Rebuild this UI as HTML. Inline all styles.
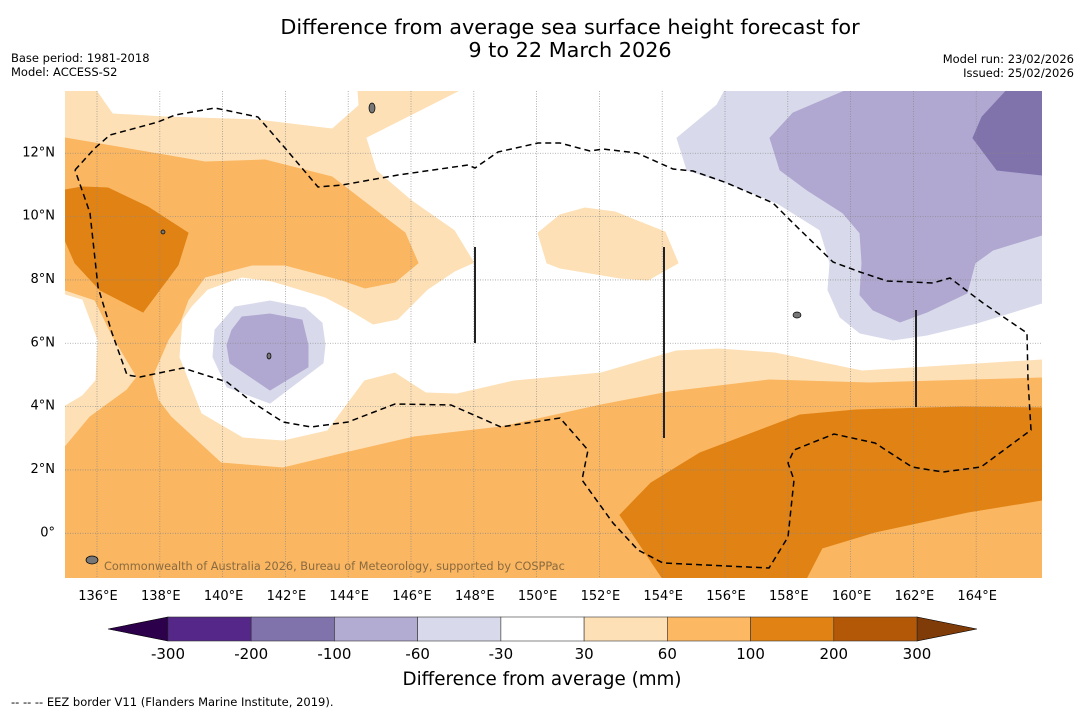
<!DOCTYPE html>
<html><head><meta charset="utf-8"><style>
body{margin:0;background:#fff;width:1085px;height:713px;overflow:hidden;font-family:"DejaVu Sans","Liberation Sans",sans-serif}
svg{display:block}
</style></head><body>
<svg id="chart" width="1085" height="713" viewBox="0 0 1085 713" xmlns="http://www.w3.org/2000/svg">
<text x="570" y="34" font-size="20.8" text-anchor="middle" fill="#000">Difference from average sea surface height forecast for</text>
<text x="570" y="57" font-size="20.8" text-anchor="middle" fill="#000">9 to 22 March 2026</text>
<text x="11" y="62" font-size="11.5">Base period: 1981-2018</text>
<text x="11" y="76" font-size="11.5">Model: ACCESS-S2</text>
<text x="1074" y="63" font-size="11.5" text-anchor="end">Model run: 23/02/2026</text>
<text x="1074" y="77" font-size="11.5" text-anchor="end">Issued: 25/02/2026</text>
<defs><clipPath id="mapclip"><rect x="65" y="91" width="977" height="487"/></clipPath></defs>
<g id="map" clip-path="url(#mapclip)"></g>
<g id="axes"></g>
<g id="cbar"></g>
<text x="542" y="685" font-size="18.3" text-anchor="middle">Difference from average (mm)</text>
<text x="11" y="706" font-size="11.5">--  --  -- EEZ border V11 (Flanders Marine Institute, 2019).</text>
</svg>
<script>
// axis data
const lonTicks=[136,138,140,142,144,146,148,150,152,154,156,158,160,162,164];
const latTicks=[0,2,4,6,8,10,12];
const cbarBounds=[-300,-200,-100,-60,-30,30,60,100,200,300];
const cbarColors=["#542788","#8073ac","#b2abd2","#d8daeb","#ffffff","#fee0b6","#fdb863","#e08214","#b35806"];
const cbarUnder="#2d004b", cbarOver="#7f3b08";
// geographic projection
const lonX=lon=>97+(lon-136)*31.4;
const latY=lat=>533.3-lat*31.67;
const NS="http://www.w3.org/2000/svg";
function mk(tag,attrs,parent){const e=document.createElementNS(NS,tag);for(const k in attrs)e.setAttribute(k,attrs[k]);parent.appendChild(e);return e;}
const map=document.getElementById('map'),axes=document.getElementById('axes'),cbar=document.getElementById('cbar');
// contour outlines (screen-space geometry of filled contour regions)
const layers=[
 {name:"contour-30-60-base",fill:"#fee0b6",pts:[[65,91],[1042,91],[1042,578],[65,578]]},
 {name:"contour-white-top-notch",fill:"#ffffff",pts:[[97,90],[113,113],[165,116],[258,119],[332,128],[358,105],[357,90]]},
 {name:"contour-white-central",fill:"#ffffff",pts:[[462,90],[1042,90],[1042,359],[862,370],[775,352],[719,348],[676,350],[601,372],[514,380],[457,393],[426,392],[395,372],[364,380],[327,430],[283,440],[243,437],[202,413],[180,357],[183,320],[192,307],[208,290],[242,278],[272,282],[325,298],[348,310],[373,325],[398,320],[428,290],[455,272],[475,263],[455,230],[412,200],[377,170],[367,138]]},
 {name:"contour-white-left",fill:"#ffffff",pts:[[65,295],[82,300],[97,340],[95,380],[82,395],[65,405]]},
 {name:"contour-30-60-island",fill:"#fee0b6",pts:[[538,233],[547,263],[560,268],[620,278],[648,280],[678,263],[665,232],[615,212],[585,208],[560,215]]},
 {name:"contour-60-100",fill:"#fab660",pts:[[65,138],[205,162],[265,160],[332,177],[405,233],[418,263],[395,282],[365,288],[342,280],[285,265],[252,265],[205,277],[188,300],[180,322],[168,340],[152,377],[158,400],[171,417],[221,463],[283,468],[345,453],[414,437],[501,427],[601,405],[669,392],[769,380],[869,383],[1042,378],[1042,578],[65,578],[65,447],[90,417],[127,390],[137,377],[112,335],[95,300],[65,290]]},
 {name:"contour-100-200-west",fill:"#e08214",pts:[[65,190],[82,187],[108,188],[148,207],[188,233],[178,265],[143,312],[100,290],[75,263],[65,240]]},
 {name:"contour-100-200-east",fill:"#e08214",pts:[[1042,408],[962,407],[856,410],[800,415],[700,453],[651,483],[620,515],[663,579],[806,579],[822,548],[875,532],[968,512],[1042,500]]},
 {name:"contour-neg30-neg60-east",fill:"#d8daeb",pts:[[725,90],[717,105],[677,138],[687,170],[727,183],[777,203],[820,230],[830,263],[828,290],[840,317],[860,333],[893,340],[927,335],[977,323],[1042,303],[1042,90]]},
 {name:"contour-neg60-neg100-east",fill:"#b0a8d0",pts:[[847,90],[793,113],[770,138],[780,170],[807,190],[843,213],[860,233],[862,263],[860,295],[873,310],[900,322],[927,312],[967,293],[975,263],[993,250],[1042,235],[1042,90]]},
 {name:"contour-neg100-neg200-east",fill:"#8073ac",pts:[[1007,90],[982,117],[973,138],[997,170],[1042,175],[1042,90]]},
 {name:"contour-neg30-neg60-west",fill:"#d8daeb",pts:[[215,330],[235,307],[270,301],[305,308],[322,323],[325,345],[323,363],[270,403],[227,387],[213,357]]},
 {name:"contour-neg60-neg100-west",fill:"#b0a8d0",pts:[[232,330],[242,317],[270,314],[302,320],[308,345],[308,367],[270,390],[230,363],[227,345]]}
];
layers.forEach(L=>{
 const p=mk('polygon',{points:L.pts.map(q=>q.join(',')).join(' '),fill:L.fill,stroke:L.fill,'stroke-width':1},map);
 
 
});
// gridlines
lonTicks.forEach(lon=>{
 const l=mk('line',{x1:lonX(lon),x2:lonX(lon),y1:91,y2:578,stroke:'#888','stroke-width':0.8,'stroke-dasharray':'1,1.5',opacity:0.8},map);
 
 
});
latTicks.forEach(lat=>{
 const l=mk('line',{x1:65,x2:1042,y1:latY(lat),y2:latY(lat),stroke:'#888','stroke-width':0.8,'stroke-dasharray':'1,1.5',opacity:0.8},map);
 
 
});
// EEZ border
const eez=[[75,170],[95,148],[110,135],[158,122],[175,115],[215,108],[258,117],[285,148],[318,187],[342,185],[398,175],[468,165],[475,168],[498,152],[538,143],[560,143],[590,151],[603,149],[637,153],[673,169],[693,171],[727,183],[773,203],[793,223],[833,262],[860,272],[887,281],[933,283],[950,278],[983,303],[1027,333],[1028,380],[1031,430],[981,467],[943,472],[912,467],[875,443],[834,434],[794,450],[788,463],[794,480],[788,537],[769,568],[663,563],[638,550],[613,523],[582,480],[588,450],[560,418],[501,427],[451,405],[395,404],[348,422],[311,427],[283,422],[252,402],[227,382],[183,368],[140,377],[127,375],[112,333],[98,287],[90,213],[75,170]];
const eb=mk('polyline',{points:eez.map(q=>q.join(',')).join(' '),fill:'none',stroke:'#000','stroke-width':1.5,'stroke-dasharray':'6,4'},map);


[[475,247,343],[664,247,438],[916,310,407]].forEach(v=>{
 const l=mk('line',{x1:v[0],x2:v[0],y1:v[1],y2:v[2],stroke:'#222','stroke-width':2},map);
 
 
});
// land specks
[[372,108,3,5],[92,560,6,4],[163,232,2,2],[797,315,4,3],[269,356,2,3]].forEach(c=>{
 const e=mk('ellipse',{cx:c[0],cy:c[1],rx:c[2],ry:c[3],fill:'#777',stroke:'#000','stroke-width':0.7},map);
 
 
});
const cr=mk('text',{x:104,y:570,'font-size':11.3,fill:'#8a6a40'},map);
cr.textContent="Commonwealth of Australia 2026, Bureau of Meteorology, supported by COSPPac";


// axis labels
lonTicks.forEach(lon=>{
 const t=mk('text',{x:lonX(lon)+1,y:600,'font-size':13,'text-anchor':'middle'},axes);
 t.textContent=lon+'°E';
 
 
});
latTicks.forEach(lat=>{
 const t=mk('text',{x:55,y:latY(lat)+3,'font-size':13,'text-anchor':'end'},axes);
 t.textContent=lat===0?'0°':lat+'°N';
 
 
});
// colorbar
const cx0=168,cx1=917,cy0=617,cy1=641;
const seg=(cx1-cx0)/cbarColors.length;
const under=mk('polygon',{points:`${cx0},${cy0} ${cx0},${cy1} 108,${(cy0+cy1)/2}`,fill:cbarUnder,stroke:'#000','stroke-width':0.6},cbar);


const over=mk('polygon',{points:`${cx1},${cy0} ${cx1},${cy1} 977,${(cy0+cy1)/2}`,fill:cbarOver,stroke:'#000','stroke-width':0.6},cbar);


cbarColors.forEach((c,i)=>{
 const r=mk('rect',{x:cx0+i*seg,y:cy0,width:seg,height:cy1-cy0,fill:c,stroke:'#333','stroke-width':0.6},cbar);
 
 
});
cbarBounds.forEach((b,i)=>{
 const t=mk('text',{x:cx0+i*seg,y:659,'font-size':15,'text-anchor':'middle'},cbar);
 t.textContent=b;
 
 
});
</script>
</body></html>
